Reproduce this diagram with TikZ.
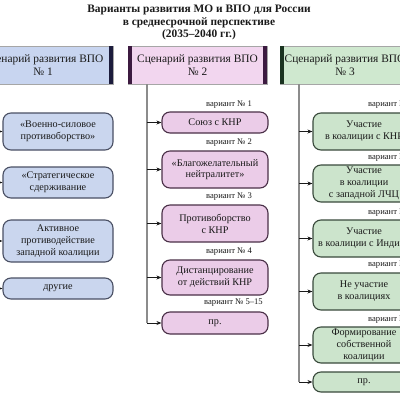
\documentclass[tikz,border=0pt]{standalone}
\usepackage{fontspec}
\setmainfont{Liberation Serif}
\usetikzlibrary{arrows.meta}
\definecolor{lfill}{HTML}{CAD6EE}
\definecolor{lhead}{HTML}{C8D5F0}
\definecolor{lbar}{HTML}{1C1C3C}
\definecolor{lline}{HTML}{4A5064}
\definecolor{mfill}{HTML}{EBCCE8}
\definecolor{mhead}{HTML}{F2D6EF}
\definecolor{mbar}{HTML}{3C1A40}
\definecolor{mline}{HTML}{4A3048}
\definecolor{rfill}{HTML}{CCE4CC}
\definecolor{rhead}{HTML}{CFE8CF}
\definecolor{rbar}{HTML}{1A3320}
\definecolor{rline}{HTML}{3A4A3C}
\definecolor{txt}{HTML}{1A1A1A}
\definecolor{vline}{HTML}{8C8C8C}
\tikzset{
  box/.style={rectangle, rounded corners=8pt, line width=1.1pt, align=center,
    font=\fontsize{10.2}{11.8}\selectfont, text=txt, inner sep=1pt},
  lbox/.style={box, draw=lline, fill=lfill, minimum width=110pt},
  mbox/.style={box, draw=mline, fill=mfill, minimum width=106pt},
  rbox/.style={box, draw=rline, fill=rfill, minimum width=102pt},
  head/.style={rectangle, draw=gray!70, line width=0.4pt, align=center,
    font=\fontsize{11.4}{12.8}\selectfont, text=txt, minimum height=38pt},
  var/.style={anchor=west, font=\fontsize{8.6}{9}\selectfont, text=txt, inner sep=0pt},
  trunk/.style={draw=vline, line width=1.3pt},
  arr/.style={draw=txt, line width=0.8pt, -{Stealth[length=5pt,width=4pt]}},
}
\begin{document}
\begin{tikzpicture}[x=1pt,y=-1pt]
\useasboundingbox (0,0) rectangle (400,400);
\clip (0,0) rectangle (400,400);
\fill[white] (0,0) rectangle (400,400);

% title
\node[align=center, font=\bfseries\fontsize{11.4}{12.6}\selectfont, text=txt] (title) at (199,22.5)
  {Варианты развития МО и ВПО для России\\в среднесрочной перспективе\\(2035--2040 гг.)};

% headers
\node[head, fill=lhead, minimum width=140pt] (H1) at (43,65) {Сценарий развития ВПО\\№ 1};
\node[head, fill=mhead, minimum width=139pt] (H2) at (197.5,65) {Сценарий развития ВПО\\№ 2};
\node[head, fill=rhead, minimum width=129pt] (H3) at (345,65) {Сценарий развития ВПО\\№ 3};
\fill[lbar] ([xshift=-4.5pt]H1.north east) rectangle (H1.south east);
\fill[mbar] (H2.north west) rectangle ([xshift=4pt]H2.south west);
\fill[mbar] ([xshift=-4.5pt]H2.north east) rectangle (H2.south east);
\fill[rbar] (H3.north west) rectangle ([xshift=4pt]H3.south west);

% left column
\node[lbox, minimum height=37pt] (L1) at (58,131.5) {«Военно-силовое\\противоборство»};
\node[lbox, minimum height=31pt] (L2) at (58,182.5) {«Стратегическое\\сдерживание};
\node[lbox, minimum height=42pt] (L3) at (58,241) {Активное\\противодействие\\западной коалиции};
\node[lbox, minimum height=21pt] (L4) at (58,288.5) {другие};

% middle column
\node[mbox, minimum height=21pt] (M1) at (215,122.5) {Союз с КНР};
\node[mbox, minimum height=37pt] (M2) at (215,169.5) {«Благожелательный\\нейтралитет»};
\node[mbox, minimum height=37pt] (M3) at (215,223.5) {Противоборство\\с КНР};
\node[mbox, minimum height=35pt] (M4) at (215,277.5) {Дистанцирование\\от действий КНР};
\node[mbox, minimum height=22pt] (M5) at (215,323) {пр.};
\node[var] (mv1) at (206,105) {вариант № 1};
\node[var] (mv2) at (206,143) {вариант № 2};
\node[var] (mv3) at (206,197) {вариант № 3};
\node[var] (mv4) at (206,252) {вариант № 4};
\node[var] (mv5) at (204,303) {вариант № 5--15};

% right column
\node[rbox, minimum height=37pt] (R1) at (364,131.5) {Участие\\в коалиции с КНР};
\node[rbox, minimum height=37pt] (R2) at (364,183.5) {Участие\\в коалиции\\с западной ЛЧЦ};
\node[rbox, minimum height=37pt] (R3) at (364,238.5) {Участие\\в коалиции с Индией};
\node[rbox, minimum height=37pt] (R4) at (364,291.5) {Не участие\\в коалициях};
\node[rbox, minimum height=36pt] (R5) at (364,345) {Формирование\\собственной\\коалиции};
\node[rbox, minimum height=20pt] (R6) at (364,382) {пр.};
\node[var] (rv1) at (368,105) {вариант № 1};
\node[var] (rv2) at (368,158) {вариант № 2};
\node[var] (rv3) at (368,213) {вариант № 3};
\node[var] (rv4) at (368,265) {вариант № 4};
\node[var] (rv5) at (368,320) {вариант № 5};

% trunks
\coordinate (l0) at (-9,84);
\coordinate (m0) at (147,84);
\coordinate (r0) at (299,84);
\path[trunk] (l0) -- (l0 |- L4.west);
\path[trunk] (m0) -- (m0 |- M5.west);
\path[trunk] (r0) -- (r0 |- R6.west);

% arrows
\foreach \n in {L1,L2,L3,L4} \path[arr] (l0 |- \n.west) -- (\n.west);
\foreach \n in {M1,M2,M3,M4,M5} \path[arr] (m0 |- \n.west) -- (\n.west);
\foreach \n in {R1,R2,R3,R4,R5,R6} \path[arr] (r0 |- \n.west) -- (\n.west);
\end{tikzpicture}
\end{document}
